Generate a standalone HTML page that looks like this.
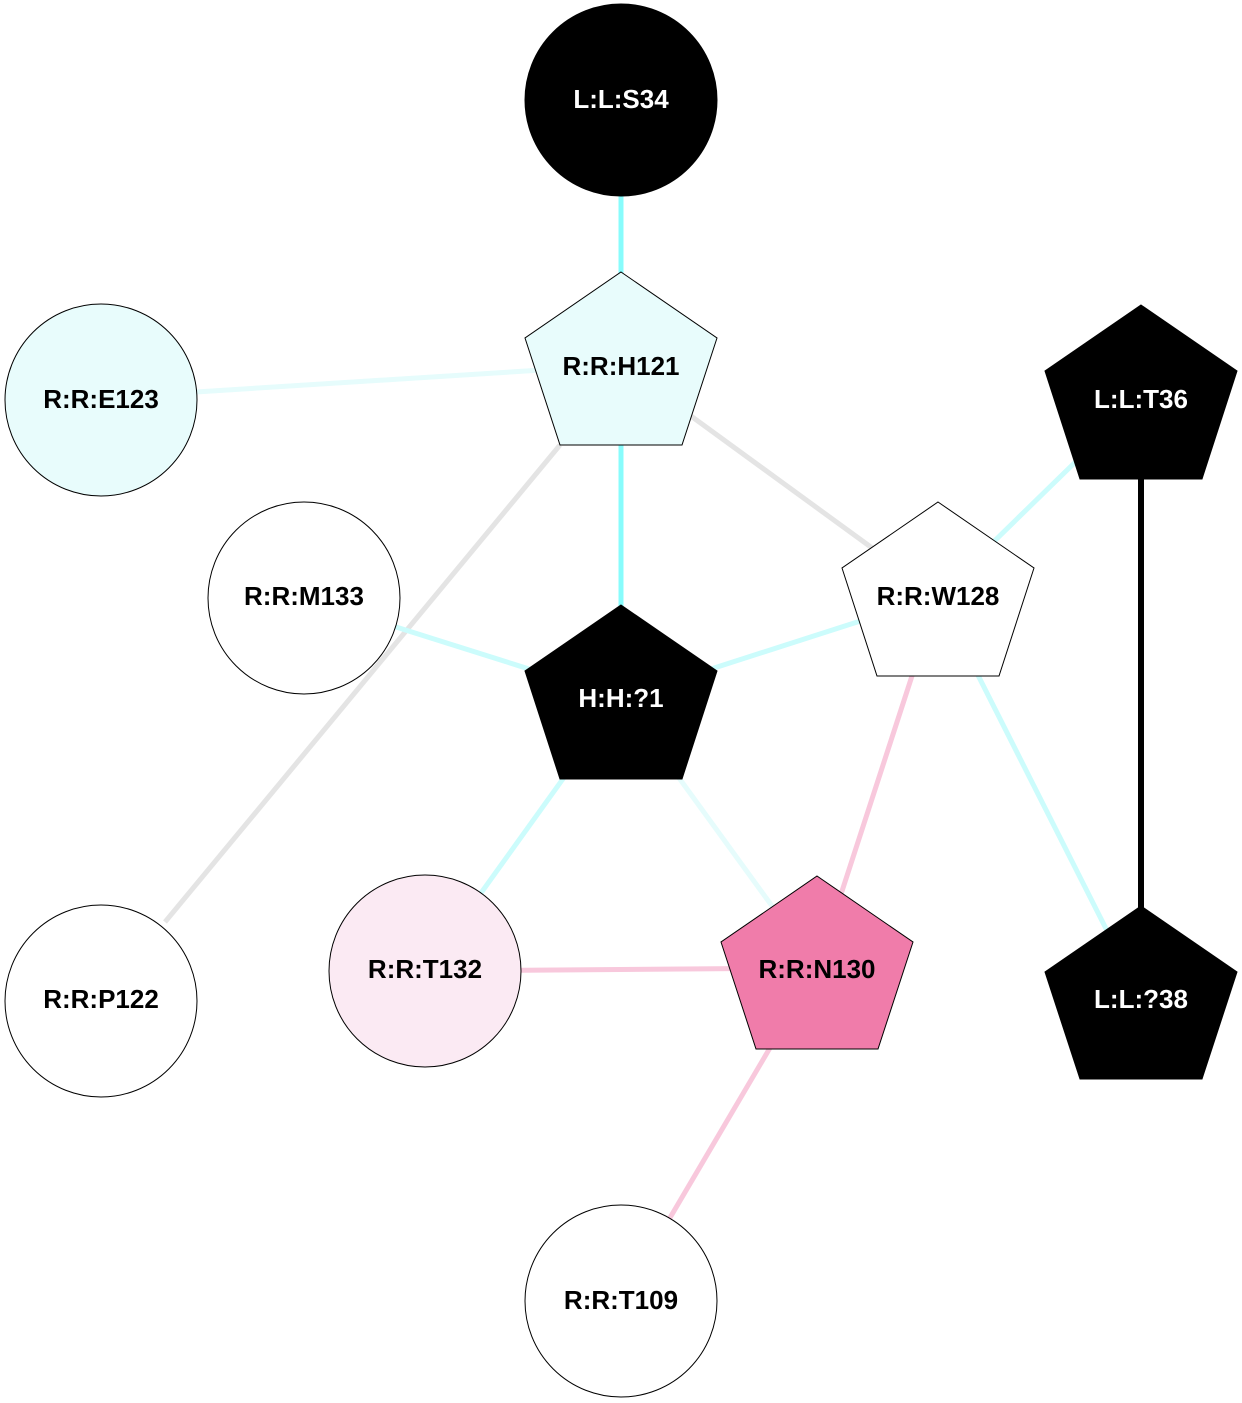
<!DOCTYPE html>
<html><head><meta charset="utf-8"><style>body{margin:0;background:#fff}svg{display:block}text{font-family:"Liberation Sans",Arial,sans-serif;font-weight:bold;font-size:26px;text-anchor:middle;dominant-baseline:central}</style></head><body>
<svg width="1242" height="1403" viewBox="0 0 1242 1403" xmlns="http://www.w3.org/2000/svg">
<g stroke-width="5" fill="none">
<line x1="621" y1="100" x2="621" y2="365" stroke="#88fcfc"/>
<line x1="101" y1="398" x2="621" y2="365" stroke="#e6fcfc"/>
<line x1="621" y1="365" x2="621" y2="698" stroke="#88fcfc"/>
<line x1="621" y1="365" x2="938" y2="596" stroke="#e4e4e4"/>
<line x1="560" y1="445" x2="165" y2="922" stroke="#e4e4e4"/>
<line x1="1141" y1="398" x2="938" y2="596" stroke="#ccfcfc"/>
<line x1="1141" y1="398" x2="1141" y2="998" stroke="#000" stroke-width="6"/>
<line x1="304" y1="598" x2="621" y2="698" stroke="#ccfcfc"/>
<line x1="938" y1="596" x2="621" y2="698" stroke="#ccfcfc"/>
<line x1="938" y1="596" x2="817" y2="968" stroke="#f8c8dc"/>
<line x1="938" y1="596" x2="1141" y2="998" stroke="#ccfcfc"/>
<line x1="621" y1="698" x2="425" y2="971" stroke="#ccfcfc"/>
<line x1="621" y1="698" x2="817" y2="968" stroke="#e6fcfc"/>
<line x1="425" y1="971" x2="817" y2="968" stroke="#f8c8dc"/>
<line x1="817" y1="968" x2="621" y2="1301" stroke="#f8c8dc"/>
</g>
<g stroke="#000" stroke-width="1">
<circle cx="621" cy="100" r="96" fill="#000"/>
<circle cx="101" cy="400" r="96" fill="#e8fcfc"/>
<circle cx="304" cy="598" r="96" fill="#fff"/>
<circle cx="101" cy="1001" r="96" fill="#fff"/>
<circle cx="425" cy="971" r="96" fill="#fbeaf3"/>
<circle cx="621" cy="1301" r="96" fill="#fff"/>
<polygon points="621,272 717,338 682,445 560,445 525,338" fill="#e8fcfc"/>
<polygon points="1141,305 1237,371 1202,479 1080,479 1045,371" fill="#000"/>
<polygon points="938,502 1034,568 999,676 877,676 842,568" fill="#fff"/>
<polygon points="621,605 717,671 682,779 560,779 525,671" fill="#000"/>
<polygon points="817,876 913,942 878,1049 756,1049 721,942" fill="#f07caa"/>
<polygon points="1141,906 1237,972 1202,1079 1080,1079 1045,972" fill="#000"/>
</g>
<text x="621" y="99" fill="#fff">L:L:S34</text>
<text x="621" y="366">R:R:H121</text>
<text x="101" y="399">R:R:E123</text>
<text x="1141" y="399" fill="#fff">L:L:T36</text>
<text x="304" y="596">R:R:M133</text>
<text x="938" y="596">R:R:W128</text>
<text x="621" y="698" fill="#fff">H:H:?1</text>
<text x="101" y="999">R:R:P122</text>
<text x="425" y="969">R:R:T132</text>
<text x="817" y="969">R:R:N130</text>
<text x="1141" y="999" fill="#fff">L:L:?38</text>
<text x="621" y="1300">R:R:T109</text>
</svg>
</body></html>
